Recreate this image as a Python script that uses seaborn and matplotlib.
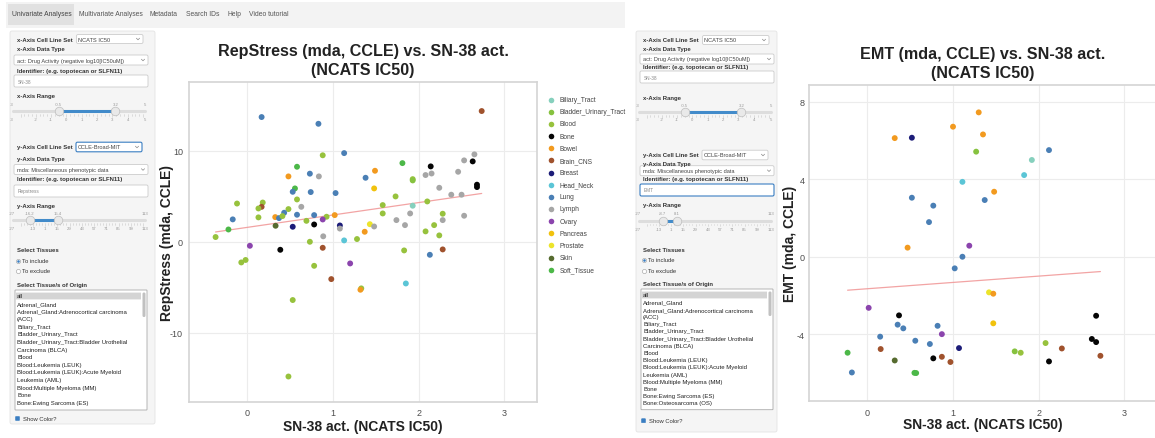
import numpy as np
import pandas as pd
import matplotlib
matplotlib.use("Agg")
import matplotlib.pyplot as plt
from matplotlib.patches import FancyBboxPatch
import seaborn as sns

W, H = 1155, 439

# ---- tissue categories and colours -------------------------------------
TISSUES = ["Biliary_Tract", "Bladder_Urinary_Tract", "Blood", "Bone", "Bowel",
           "Brain_CNS", "Breast", "Head_Neck", "Lung", "Lymph", "Ovary",
           "Pancreas", "Prostate", "Skin", "Soft_Tissue"]
TISSUE_COLORS = ["#86d0bd", "#86c23f", "#97c23d", "#050505", "#f29a1f",
                 "#a0522d", "#1c1c78", "#5bc5d6", "#4a7fb5", "#a6a6a6",
                 "#8b44ad", "#f1c20d", "#ece42b", "#566b2f", "#4cb848"]

# ---- RepStress vs SN-38 ----------------------------------------------
rep_x = [0.167, 0.83, 2.735, 0.88, 1.13, 0.58, 0.48, 0.73, 0.835, 1.49,
         1.38, 1.81, 2.14, 2.08, 2.15, 1.93, 1.93, 2.53, 2.65, 2.63,
         2.46, 2.68, 2.68, 2.24, 0.556, 0.53, 0.74, 1.03, 1.48, 0.58,
         1.73, -0.12, 0.18, 0.167, 0.13, 0.63, 0.48, 0.43, 0.58, 0.78,
         1.02, 0.925, 0.326, 0.37, 0.41, 0.13, -0.17, 1.58, 1.58, 1.93,
         2.10, 2.38, 2.50, 1.90, 2.28, 2.28, 2.53, 1.74, 1.84, 2.18,
         2.08, 2.24, 0.69, 0.78, 0.88, 1.08, 1.08, 0.53, 0.33, 1.43,
         1.48, 1.37, -0.22, -0.37, 0.886, 1.28, 1.13, 0.03, 0.385, 0.73,
         0.88, -0.07, -0.02, 0.78, 1.20, 0.98, 1.33, 1.32, 1.85, 1.83,
         2.13, 2.28, 0.53, 0.48]
rep_y = [13.7, 12.96, 14.36, 9.5, 9.74, 8.24, 7.18, 7.48, 7.18, 7.8,
         7.03, 8.64, 8.28, 7.33, 7.5, 6.88, 6.74, 8.94, 9.6, 8.83,
         7.69, 6.27, 6.01, 5.93, 5.86, 5.49, 5.46, 5.35, 5.86, 4.65,
         4.98, 4.2, 4.31, 3.84, 3.66, 3.84, 3.59, 3.19, 2.97, 2.93,
         2.93, 2.75, 2.71, 2.6, 2.82, 2.68, 2.46, 4.03, 3.11, 3.96,
         4.43, 5.17, 5.17, 3.11, 3.08, 2.38, 2.86, 2.38, 1.83, 1.83,
         1.14, 0.7, 2.3, 1.9, 2.45, 1.79, 1.45, 1.65, 1.76, 1.93,
         1.68, 1.1, 1.35, 0.52, 0.6, 0.3, 0.15, -0.44, -0.88, 0.0,
         -0.66, -2.27, -2.0, -2.64, -2.38, -4.1, -5.12, -5.27, -4.58, -0.95,
         -1.43, -0.84, -6.4, -14.8]
rep_tissue = ["Lung", "Lung", "Brain_CNS", "Blood", "Lung", "Soft_Tissue", "Bowel", "Lung", "Lymph", "Bowel",
              "Lung", "Soft_Tissue", "Bone", "Lymph", "Lymph", "Blood", "Bladder_Urinary_Tract", "Lymph", "Lymph", "Bone",
              "Lymph", "Bone", "Bone", "Lymph", "Soft_Tissue", "Lung", "Lung", "Lung", "Pancreas", "Blood",
              "Blood", "Blood", "Blood", "Brain_CNS", "Blood", "Lymph", "Blood", "Lung", "Lung", "Lung",
              "Bowel", "Blood", "Bowel", "Lung", "Blood", "Blood", "Lung", "Blood", "Blood", "Biliary_Tract",
              "Blood", "Lymph", "Lymph", "Lymph", "Blood", "Lymph", "Lymph", "Lymph", "Lymph", "Blood",
              "Blood", "Blood", "Blood", "Bone", "Ovary", "Breast", "Lymph", "Breast", "Skin", "Prostate",
              "Lymph", "Bowel", "Soft_Tissue", "Blood", "Lymph", "Blood", "Head_Neck", "Ovary", "Bone", "Blood",
              "Brain_CNS", "Blood", "Blood", "Blood", "Ovary", "Brain_CNS", "Blood", "Bowel", "Head_Neck", "Blood",
              "Lung", "Brain_CNS", "Blood", "Blood"]

# ---- EMT vs SN-38 -----------------------------------------------------
emt_x = [0.32, 0.52, 1.30, 1.00, 1.35, 1.27, 2.12, 1.92, 1.83, 1.11,
         1.48, 0.52, 0.77, 1.37, 0.72, 0.47, 1.19, 1.11, 1.02, 1.42,
         1.47, 1.47, 0.016, 0.37, 0.354, 0.42, 0.82, 0.87, 0.15, 0.56,
         0.73, 0.156, -0.23, 1.07, 0.77, 0.87, 0.32, 0.97, -0.18, 0.55,
         0.57, 1.72, 1.79, 2.08, 2.12, 2.27, 2.62, 2.67, 2.67, 2.72]
emt_y = [6.13, 6.15, 7.46, 6.72, 6.32, 5.43, 5.51, 5.00, 4.22, 3.87,
         3.36, 3.05, 2.64, 2.93, 1.79, 0.47, 0.57, 0.0, -0.6, -1.84,
         -1.91, -3.44, -2.64, -3.03, -3.51, -3.70, -3.57, -4.0, -4.13, -4.34,
         -4.51, -4.77, -4.96, -4.72, -5.25, -5.17, -5.36, -5.44, -5.98, -6.0,
         -6.01, -4.89, -4.96, -4.46, -5.41, -4.74, -4.25, -4.41, -3.05, -5.12]
emt_tissue = ["Bowel", "Breast", "Bowel", "Bowel", "Bowel", "Bladder_Urinary_Tract", "Lung", "Biliary_Tract", "Head_Neck", "Head_Neck",
              "Bowel", "Lung", "Lung", "Lung", "Lung", "Bowel", "Ovary", "Lung", "Lung", "Prostate",
              "Bowel", "Pancreas", "Ovary", "Bone", "Lung", "Lung", "Lung", "Ovary", "Lung", "Lung",
              "Lung", "Brain_CNS", "Soft_Tissue", "Breast", "Bone", "Brain_CNS", "Skin", "Brain_CNS", "Lung", "Soft_Tissue",
              "Soft_Tissue", "Bladder_Urinary_Tract", "Blood", "Blood", "Bone", "Brain_CNS", "Bone", "Bone", "Bone", "Brain_CNS"]

x_ticks = [0, 1, 2, 3]
rep_yticks = [-10, 0, 10]
emt_yticks = [-4, 0, 4, 8]

nav_tabs = ["Univariate Analyses", "Multivariate Analyses", "Metadata",
            "Search IDs", "Help", "Video tutorial"]
tissue_options = ["all", "Adrenal_Gland", "Adrenal_Gland:Adrenocortical carcinoma",
                  "(ACC)", "Biliary_Tract", "Bladder_Urinary_Tract",
                  "Bladder_Urinary_Tract:Bladder Urothelial", "Carcinoma (BLCA)",
                  "Blood", "Blood:Leukemia (LEUK)", "Blood:Leukemia (LEUK):Acute Myeloid",
                  "Leukemia (AML)", "Blood:Multiple Myeloma (MM)", "Bone",
                  "Bone:Ewing Sarcoma (ES)", "Bone:Osteosarcoma (OS)"]
x_slider_grid = [-3, -2, -1, 0, 1, 2, 3, 4, 5]
y_slider_grid = [-27, -13, 1, 15, 29, 43, 57, 71, 85, 99, 113]

sns.set_theme(style="white")
plt.rcParams["font.family"] = ["Liberation Sans", "DejaVu Sans"]
plt.rcParams["axes.unicode_minus"] = False

palette = dict(zip(TISSUES, TISSUE_COLORS))

fig = plt.figure(figsize=(W / 100, H / 100), dpi=100)
bg = fig.add_axes([0, 0, 1, 1])
bg.set_xlim(0, W)
bg.set_ylim(H, 0)
bg.axis("off")

BLUE = "#3a7ec2"
LBL = 4.35


def txt(x, y, s, size=LBL, weight="normal", color="#333333", ha="left", va="center", **kw):
    bg.text(x, y, s, fontsize=size, fontweight=weight, color=color, ha=ha, va=va, **kw)


def box(x0, x1, y0, y1, fc="white", ec="#cccccc", lw=0.6, r=1.5, z=1):
    bg.add_patch(FancyBboxPatch((x0, y0), x1 - x0, y1 - y0,
                                boxstyle=f"round,pad=0,rounding_size={r}",
                                fc=fc, ec=ec, lw=lw, zorder=z))


def chevron(x, y):
    bg.plot([x - 1.6, x, x + 1.6], [y - 0.8, y + 0.8, y - 0.8], color="#888888", lw=0.5, zorder=3)


def slider(x0, y_lab, y_tr, y_tk, vmin, vmax, v1, v2, grid, fmt):
    def hx(v):
        return x0 + 20.5 + (v - vmin) / (vmax - vmin) * 122.5
    # rail with grid marks
    bg.plot([x0 + 13, x0 + 145], [y_tr, y_tr], color="#dddddd", lw=2.2,
            solid_capstyle="round", zorder=2)
    bg.plot([hx(v1), hx(v2)], [y_tr, y_tr], color="#428bca", lw=2.2, zorder=3)
    n = len(grid) - 1
    for i in range(n * 4 + 1):
        v = vmin + (vmax - vmin) * i / (n * 4)
        L = 2.6 if i % 4 == 0 else 1.5
        bg.plot([hx(v), hx(v)], [y_tr + 3, y_tr + 3 + L], color="#c8c8c8", lw=0.4, zorder=2)
    for i, g in enumerate(grid):
        gx = hx(g)
        if i == 0:
            gx = x0 + 12
        if i == n:
            gx = x0 + 145
        txt(gx, y_tk, str(g), size=3.1, color="#999999", ha="center")
    for v in (v1, v2):
        bg.scatter([hx(v)], [y_tr], s=38, color="#e9e9e9", edgecolor="#bdbdbd",
                   linewidth=0.5, zorder=4)
    txt(x0 + 12, y_lab, fmt(vmin), size=3.1, color="#999999", ha="center")
    txt(x0 + 145, y_lab, fmt(vmax), size=3.1, color="#999999", ha="center")
    txt(hx(v1), y_lab, fmt(v1), size=3.1, color="#999999", ha="center")
    txt(hx(v2), y_lab, fmt(v2), size=3.1, color="#999999", ha="center")


def sidebar(x0, P, ident, yset, yset_focus, ident_focus):
    box(x0 + P["panel"][0], x0 + P["panel"][1], P["panel"][2], P["panel"][3],
        fc="#f5f5f5", ec="#e3e3e3", lw=0.6, r=2, z=0.5)
    # x axis block
    txt(x0 + 17, P["xcell"], "x-Axis Cell Line Set", weight="bold")
    box(x0 + 76.5, x0 + 143, P["xcell"] - 4.5, P["xcell"] + 4.5)
    txt(x0 + 78.5, P["xcell"], "NCATS IC50", size=4.1, color="#444444")
    chevron(x0 + 138, P["xcell"])
    txt(x0 + 17, P["xtype"], "x-Axis Data Type", weight="bold")
    box(x0 + 14, x0 + 148, P["xdd"] - 5, P["xdd"] + 5)
    txt(x0 + 17, P["xdd"], "act: Drug Activity (negative log10[IC50uM])", size=4.1, color="#444444")
    chevron(x0 + 143, P["xdd"])
    txt(x0 + 17, P["id1"], "Identifier: (e.g. topotecan or SLFN11)", weight="bold")
    box(x0 + 14, x0 + 148, P["in1"] - 6, P["in1"] + 6)
    txt(x0 + 18, P["in1"], "SN-38", size=3.4, color="#888888")
    txt(x0 + 17, P["xr"], "x-Axis Range", weight="bold")
    slider(x0, P["s1"][0], P["s1"][1], P["s1"][2], -3, 5, -0.5, 3.2, x_slider_grid,
           lambda v: f"{v:g}")
    # y axis block
    txt(x0 + 17, P["ycell"], "y-Axis Cell Line Set", weight="bold")
    box(x0 + 76, x0 + 142, P["ycell"] - 4.8, P["ycell"] + 4.8,
        ec=BLUE if yset_focus else "#cccccc", lw=0.8 if yset_focus else 0.6)
    txt(x0 + 78, P["ycell"], yset, size=4.1, color="#444444")
    chevron(x0 + 137, P["ycell"])
    txt(x0 + 17, P["ytype"], "y-Axis Data Type", weight="bold")
    box(x0 + 14, x0 + 148, P["ydd"] - 5, P["ydd"] + 5)
    txt(x0 + 17, P["ydd"], "mda: Miscellaneous phenotypic data", size=4.1, color="#444444")
    chevron(x0 + 143, P["ydd"])
    txt(x0 + 17, P["id2"], "Identifier: (e.g. topotecan or SLFN11)", weight="bold")
    box(x0 + 14, x0 + 148, P["in2"] - 6, P["in2"] + 6,
        ec=BLUE if ident_focus else "#cccccc", lw=0.8 if ident_focus else 0.6)
    txt(x0 + 18, P["in2"], ident, size=3.4, color="#888888")
    txt(x0 + 17, P["yr"], "y-Axis Range", weight="bold")
    slider(x0, P["s2"][0], P["s2"][1], P["s2"][2], -27, 113, P["yv"][0], P["yv"][1],
           y_slider_grid, lambda v: f"{v:g}")
    # tissue selection
    txt(x0 + 17, P["sel"], "Select Tissues", weight="bold")
    bg.scatter([x0 + 18], [P["inc"]], s=9, color="white", edgecolor="#999999", lw=0.4, zorder=3)
    bg.scatter([x0 + 18], [P["inc"]], s=3.5, color=BLUE, lw=0, zorder=4)
    txt(x0 + 22, P["inc"], "To include", size=4.2)
    bg.scatter([x0 + 18], [P["exc"]], s=9, color="white", edgecolor="#999999", lw=0.4, zorder=3)
    txt(x0 + 22, P["exc"], "To exclude", size=4.2)
    txt(x0 + 17, P["org"], "Select Tissue/s of Origin", weight="bold")
    lb0, lb1 = P["lb"]
    box(x0 + 15, x0 + 147, lb0, lb1, ec="#aaaaaa", lw=0.6, r=0.5)
    box(x0 + 16, x0 + 141, P["item0"] - 3.4, P["item0"] + 3.4, fc="#d4d4d4", ec="none", r=0, z=1.5)
    box(x0 + 142.5, x0 + 145.5, lb0 + 2.5, lb0 + 27, fc="#c1c1c1", ec="none", r=1.4, z=2)
    for i, item in enumerate(tissue_options):
        yy = P["item0"] + i * P["step"]
        if yy > lb1 - 1:
            break
        bg.text(x0 + 17, yy, item, fontsize=4.3, color="#222222", ha="left", va="center",
                zorder=3, clip_on=True)
    box(x0 + 15.5, x0 + 19.5, P["show"] - 2, P["show"] + 2, fc=BLUE, ec=BLUE, lw=0.4, r=0.6, z=3)
    txt(x0 + 23, P["show"], "Show Color?", size=4.2)


LEFT = dict(panel=(10, 155, 32, 425), xcell=40, xtype=50, xdd=61, id1=71, in1=82, xr=96.5,
            s1=(105, 112, 120), ycell=148, ytype=160, ydd=170.5, id2=180, in2=192, yr=207,
            s2=(214, 221, 229), yv=(-16.2, 15.4), sel=251, inc=262, exc=272, org=286,
            lb=(291, 411), item0=297, step=7.6, show=419.5)
RIGHT = dict(panel=(10, 151, 32, 433), xcell=41, xtype=49.5, xdd=60, id1=67, in1=78, xr=98.3,
             s1=(106, 113, 120.5), ycell=156, ytype=165, ydd=171.7, id2=179.3, in2=191, yr=206,
             s2=(214.3, 221.7, 229.7), yv=(-8.7, 8.1), sel=250.7, inc=261, exc=271.7, org=284.3,
             lb=(290, 410.7), item0=296, step=7.2, show=421.7)

# navigation bar
box(6, 625, 3, 29, fc="#f3f3f3", ec="none", r=0, z=0.5)
box(8, 74, 5, 26, fc="#e1e1e1", ec="none", r=0, z=0.6)
for name, xx in zip(nav_tabs, [12.5, 79, 150, 186, 227, 249]):
    txt(xx, 14.5, name, size=4.9, color="#555555" if xx > 13 else "#444444")

sidebar(0, LEFT, "Repstress", "CCLE-Broad-MIT", True, False)
sidebar(626, RIGHT, "EMT", "CCLE-Broad-MIT", False, True)


def scatter_panel(l, r, t, b, xs, ys, ts, xlim, ylim, yticks, title, title_y, xlabel,
                  ylabel, ylabel_x, xlabel_y, rtext, rpos, ytick_pad):
    ax = fig.add_axes([l / W, 1 - b / H, (r - l) / W, (b - t) / H])
    df = pd.DataFrame({"x": xs, "y": ys, "tissue": ts})
    ax.set_axisbelow(True)
    sns.regplot(data=df, x="x", y="y", scatter=False, ci=None, truncate=True,
                color="#f19a9a", line_kws=dict(lw=0.9, alpha=0.9, zorder=2), ax=ax)
    sns.scatterplot(data=df, x="x", y="y", hue="tissue", hue_order=TISSUES, palette=palette,
                    s=18, linewidth=0, legend=False, ax=ax, zorder=3)
    ax.set_xlim(*xlim)
    ax.set_ylim(*ylim)
    ax.set_xticks(x_ticks)
    ax.set_yticks(yticks)
    ax.grid(True, color="#ececec", lw=0.8)
    for sp in ax.spines.values():
        sp.set_color("#d4d4d4")
        sp.set_linewidth(1.2)
    ax.tick_params(axis="both", length=0, labelsize=6.5, labelcolor="#4d4d4d")
    ax.tick_params(axis="x", pad=4.5)
    ax.tick_params(axis="y", pad=ytick_pad)
    ax.set_xlabel(xlabel, fontsize=10, fontweight="bold", color="#222222")
    ax.set_ylabel(ylabel, fontsize=10, fontweight="bold", color="#222222")
    ax.xaxis.label.set_va("center")
    ax.yaxis.label.set_va("center")
    ax.xaxis.set_label_coords(0.5, (b - xlabel_y) / (b - t))
    ax.yaxis.set_label_coords((ylabel_x - l) / (r - l), 0.5)
    cx = (l + r) / 2
    for line, yy in zip(title, title_y):
        txt(cx, yy, line, size=11.6, weight="bold", color="#222222", ha="center")
    txt(rpos[0], rpos[1], rtext, size=10, weight="bold", color="#ee1c1c")
    return ax


scatter_panel(188.6, 537.4, 83, 403, rep_x, rep_y, rep_tissue, (-0.685, 3.385), (-17.6, 17.55),
              rep_yticks, ["RepStress (mda, CCLE) vs. SN-38 act.", "(NCATS IC50)"], [51.7, 70.3],
              "SN-38 act. (NCATS IC50)", "RepStress (mda, CCLE)", 167, 426.7,
              "R = 0.25, p-value = 0.0014", (203, 97.3), 4)
scatter_panel(808.6, 1157.4, 85.7, 402.3, emt_x, emt_y, emt_tissue, (-0.685, 3.385), (-7.47, 8.89),
              emt_yticks, ["EMT (mda, CCLE) vs. SN-38 act.", "(NCATS IC50)"], [55, 73.3],
              "SN-38 act. (NCATS IC50)", "EMT (mda, CCLE)", 790, 425,
              "R = 0.06, p-value = 0.69", (821, 98.3), 2.6)

# tissue legend
for i, (name, col) in enumerate(zip(TISSUES, TISSUE_COLORS)):
    yy = 100.7 + i * 12.14
    bg.scatter([550.7], [yy], s=16, color=col, lw=0, zorder=3)
    txt(559.3, yy, name, size=4.8, color="#444444")

fig.savefig("out.png", dpi=100)
